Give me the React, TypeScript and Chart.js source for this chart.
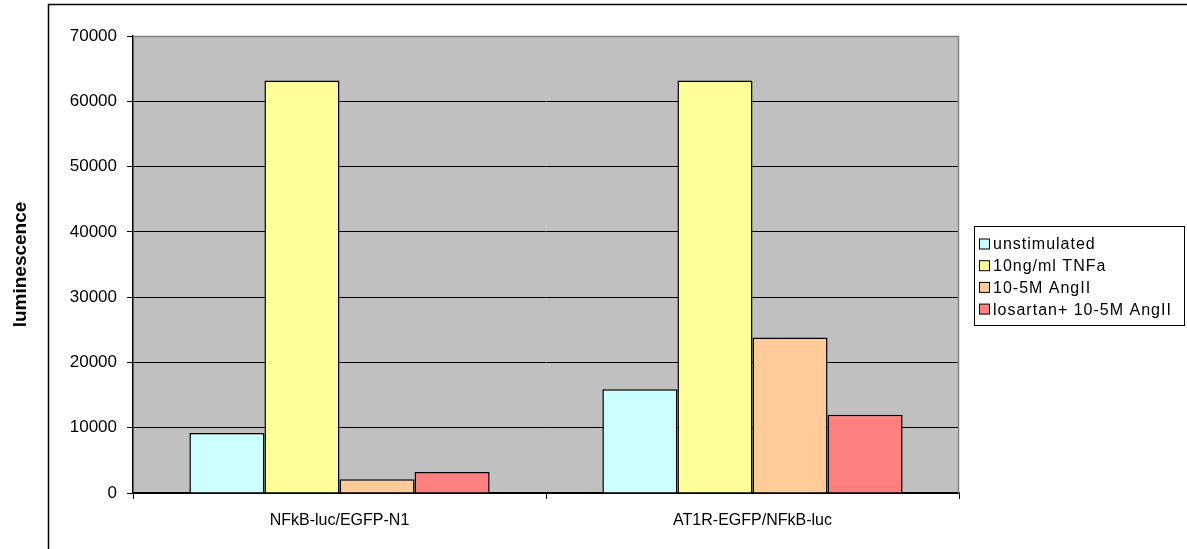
import React, { useEffect, useRef } from "react";
import { Chart, registerables } from "chart.js";

Chart.register(...registerables);

const categories = ["NFkB-luc/EGFP-N1", "AT1R-EGFP/NFkB-luc"];
const seriesLabels = ["unstimulated", "10ng/ml TNFa", "10-5M AngII", "losartan+ 10-5M AngII"];
const unstimulated = [9200, 15900];
const tnfa = [63200, 63200];
const angII = [2100, 23800];
const losartanAngII = [3200, 12000];
const yTicks = [0, 10000, 20000, 30000, 40000, 50000, 60000, 70000];

const colors = ["#CCFFFF", "#FFFF99", "#FFCC99", "#FF8080"];
const FONT = "'Liberation Sans', Arial, sans-serif";

// Frame around the whole chart plus the gray top/right edges of the plot area
const framePlugin = {
  id: "frame",
  beforeDraw(chart: any) {
    const { ctx, chartArea } = chart;
    ctx.save();
    ctx.fillStyle = "#ffffff";
    ctx.fillRect(0, 0, chart.width, chart.height);
    ctx.fillStyle = "#C0C0C0";
    ctx.fillRect(chartArea.left, chartArea.top, chartArea.right - chartArea.left, chartArea.bottom - chartArea.top);
    ctx.strokeStyle = "#000";
    ctx.lineWidth = 1.5;
    ctx.beginPath();
    ctx.moveTo(48.5, chart.height + 2);
    ctx.lineTo(48.5, 4.5);
    ctx.lineTo(chart.width + 2, 4.5);
    ctx.stroke();
    ctx.restore();
  },
  afterDatasetsDraw(chart: any) {
    const { ctx, chartArea } = chart;
    ctx.save();
    ctx.strokeStyle = "#808080";
    ctx.lineWidth = 1.5;
    ctx.beginPath();
    ctx.moveTo(chartArea.left, chartArea.top + 0.5);
    ctx.lineTo(chartArea.right - 0.5, chartArea.top + 0.5);
    ctx.lineTo(chartArea.right - 0.5, chartArea.bottom);
    ctx.stroke();
    ctx.restore();
  },
};

// Boxed legend on the right
const boxLegendPlugin = {
  id: "boxLegend",
  afterDraw(chart: any) {
    const { ctx } = chart;
    const x0 = 974.5, y0 = 226.5, w = 210, h = 99;
    ctx.save();
    ctx.fillStyle = "#fff";
    ctx.fillRect(x0, y0, w, h);
    ctx.strokeStyle = "#000";
    ctx.lineWidth = 1;
    ctx.strokeRect(x0, y0, w, h);
    ctx.font = `16px ${FONT}`;
    (ctx as any).letterSpacing = "1px";
    ctx.textBaseline = "middle";
    ctx.fillStyle = "#000";
    chart.data.datasets.forEach((ds: any, i: number) => {
      const cy = 244 + i * 21.7;
      ctx.fillStyle = ds.backgroundColor;
      ctx.fillRect(979.5, cy - 5, 10, 10);
      ctx.strokeStyle = "#000";
      ctx.lineWidth = 1;
      ctx.strokeRect(979.5, cy - 5, 10, 10);
      ctx.fillStyle = "#000";
      ctx.fillText(ds.label, 993, cy + 1);
    });
    ctx.restore();
  },
};

export default function App() {
  const canvasRef = useRef<HTMLCanvasElement | null>(null);

  useEffect(() => {
    document.body.style.margin = "0";
    const canvas = canvasRef.current;
    if (!canvas) return;
    const seriesValues = [unstimulated, tnfa, angII, losartanAngII];
    const chart = new Chart(canvas, {
      type: "bar",
      data: {
        labels: categories,
        datasets: seriesValues.map((vals, i) => ({
          label: seriesLabels[i],
          data: vals,
          backgroundColor: colors[i],
          borderColor: "#000",
          borderWidth: 1.5,
          categoryPercentage: 0.727,
          barPercentage: 1,
        })),
      },
      options: {
        animation: false,
        responsive: false,
        maintainAspectRatio: false,
        layout: { padding: { top: 36, right: 228, left: 0, bottom: 0 } },
        plugins: {
          legend: { display: false },
          tooltip: { enabled: false },
        },
        scales: {
          x: {
            grid: {
              offset: true,
              drawOnChartArea: false,
              drawTicks: true,
              tickLength: 6,
              tickColor: "#000",
            },
            border: { color: "#000", width: 1.5 },
            ticks: {
              color: "#000",
              font: { family: FONT, size: 16 },
              padding: 12,
            },
            afterFit(scale: any) {
              scale.height = 56;
            },
          },
          y: {
            min: 0,
            max: 70000,
            afterBuildTicks(scale: any) {
              scale.ticks = yTicks.map((v) => ({ value: v }));
            },
            grid: {
              color: (c: any) => (c.tick && c.tick.value === 70000 ? "#808080" : "#000"),
              lineWidth: 1,
              drawTicks: true,
              tickLength: 6,
              tickColor: "#000",
            },
            border: { color: "#000", width: 1.5 },
            ticks: {
              color: "#000",
              font: { family: FONT, size: 17 },
              padding: 10,
              callback: (v: any) => String(v),
            },
            title: {
              display: true,
              text: "luminescence",
              color: "#000",
              font: { family: FONT, size: 19, weight: "bold" },
              padding: { top: 9, bottom: 0 },
            },
            afterFit(scale: any) {
              scale.width = 133;
            },
          },
        },
      },
      plugins: [framePlugin, boxLegendPlugin],
    });
    return () => chart.destroy();
  }, []);

  return (
    <div style={{ width: 1187, height: 549 }}>
      <canvas ref={canvasRef} width={1187} height={549} />
    </div>
  );
}
